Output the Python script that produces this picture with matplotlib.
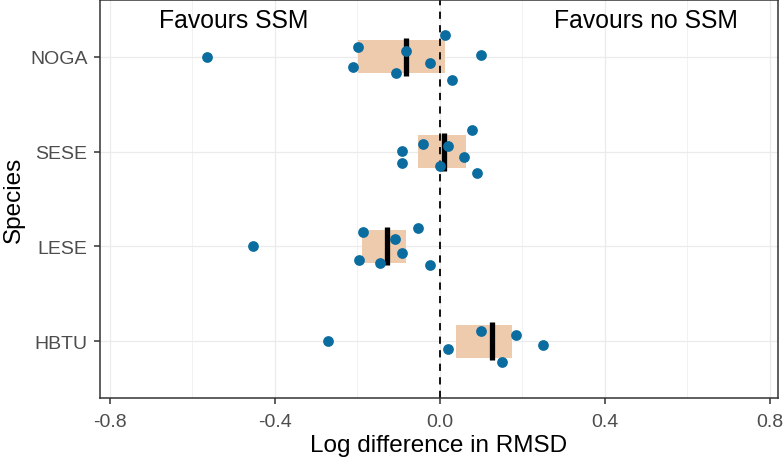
#!/usr/bin/env python3

import numpy as np
import matplotlib
matplotlib.use('Agg')
import matplotlib.pyplot as plt

# species, bottom to top
species = ['HBTU', 'LESE', 'SESE', 'NOGA']

# log difference in RMSD per model
hbtu_vals = [-0.270, 0.101, 0.184, 0.250, 0.019, 0.150]
lese_vals = [-0.452, -0.186, -0.053, -0.108, -0.091, -0.197, -0.146, -0.025]
sese_vals = [-0.041, 0.020, -0.091, -0.091, 0.000, 0.059, 0.079, 0.089]
noga_vals = [-0.564, -0.199, -0.211, -0.083, -0.107, -0.025, 0.012, 0.099, 0.029]

# vertical jitter of each point (in category units)
hbtu_jit = [0.0, 0.108, 0.070, -0.042, -0.084, -0.217]
lese_jit = [0.0, 0.147, 0.193, 0.073, -0.073, -0.140, -0.178, -0.192]
sese_jit = [0.076, 0.058, 0.002, -0.118, -0.152, -0.061, 0.226, -0.226]
noga_jit = [0.0, 0.108, -0.102, 0.066, -0.175, -0.063, 0.227, 0.021, -0.241]

all_vals = [hbtu_vals, lese_vals, sese_vals, noga_vals]
all_jit = [hbtu_jit, lese_jit, sese_jit, noga_jit]

x_ticks = [-0.8, -0.4, 0.0, 0.4, 0.8]

pt_col = '#0B6D9F'
box_col = '#EECBAD'
txt_col = '#4D4D4D'

plt.rcParams['font.family'] = ['Liberation Sans', 'DejaVu Sans']

fig = plt.figure(figsize=(7.84, 4.6), dpi=100, facecolor='white')
ax = fig.add_axes([100 / 784, 61 / 460, 678 / 784, 398 / 460])

ax.set_xlim(-0.824, 0.820)
ax.set_ylim(0.4, 4.6)

# grid like theme_bw
for xv in np.arange(-0.8, 0.81, 0.2):
    lw = 0.9 if abs(round(xv / 0.4) * 0.4 - xv) < 1e-9 else 0.5
    ax.axvline(xv, color='#EBEBEB', lw=lw, zorder=0)
for i in range(len(species)):
    ax.axhline(i + 1, color='#EBEBEB', lw=0.9, zorder=0)

for i, (vals, jit) in enumerate(zip(all_vals, all_jit)):
    yc = i + 1
    q1, med, q3 = np.percentile(vals, [25, 50, 75])
    ax.fill_between([q1, q3], yc - 0.173, yc + 0.173, color=box_col, lw=0, zorder=1)
    ax.plot([med, med], [yc - 0.2, yc + 0.2], color='black', lw=3.8, solid_capstyle='butt', zorder=3)

ax.axvline(0, color='black', lw=1.3, ls=(0, (4, 3.5)), zorder=2)

for i, (vals, jit) in enumerate(zip(all_vals, all_jit)):
    ax.scatter(vals, np.array(jit) + i + 1, s=60, color=pt_col, lw=0, zorder=4)

ax.text(-0.5, 4.39, 'Favours SSM', fontsize=17.8, ha='center', va='center', color='black')
ax.text(0.5, 4.39, 'Favours no SSM', fontsize=17.8, ha='center', va='center', color='black')

ax.set_xticks(x_ticks)
ax.set_xticklabels(['-0.8', '-0.4', '0.0', '0.4', '0.8'])
ax.set_yticks(range(1, len(species) + 1))
ax.set_yticklabels(species)
ax.tick_params(axis='both', colors='#333333', labelcolor=txt_col, labelsize=14, length=4, width=1.1)
ax.tick_params(axis='y', pad=5)
ax.tick_params(axis='x', pad=7)
for s in ax.spines.values():
    s.set_color('#333333')
    s.set_linewidth(1.1)

ax.set_xlabel('Log difference in RMSD', fontsize=17.5, labelpad=3)
ax.set_ylabel('Species', fontsize=17.5, labelpad=4)

plt.savefig('out.png', dpi=100, facecolor=fig.get_facecolor())
